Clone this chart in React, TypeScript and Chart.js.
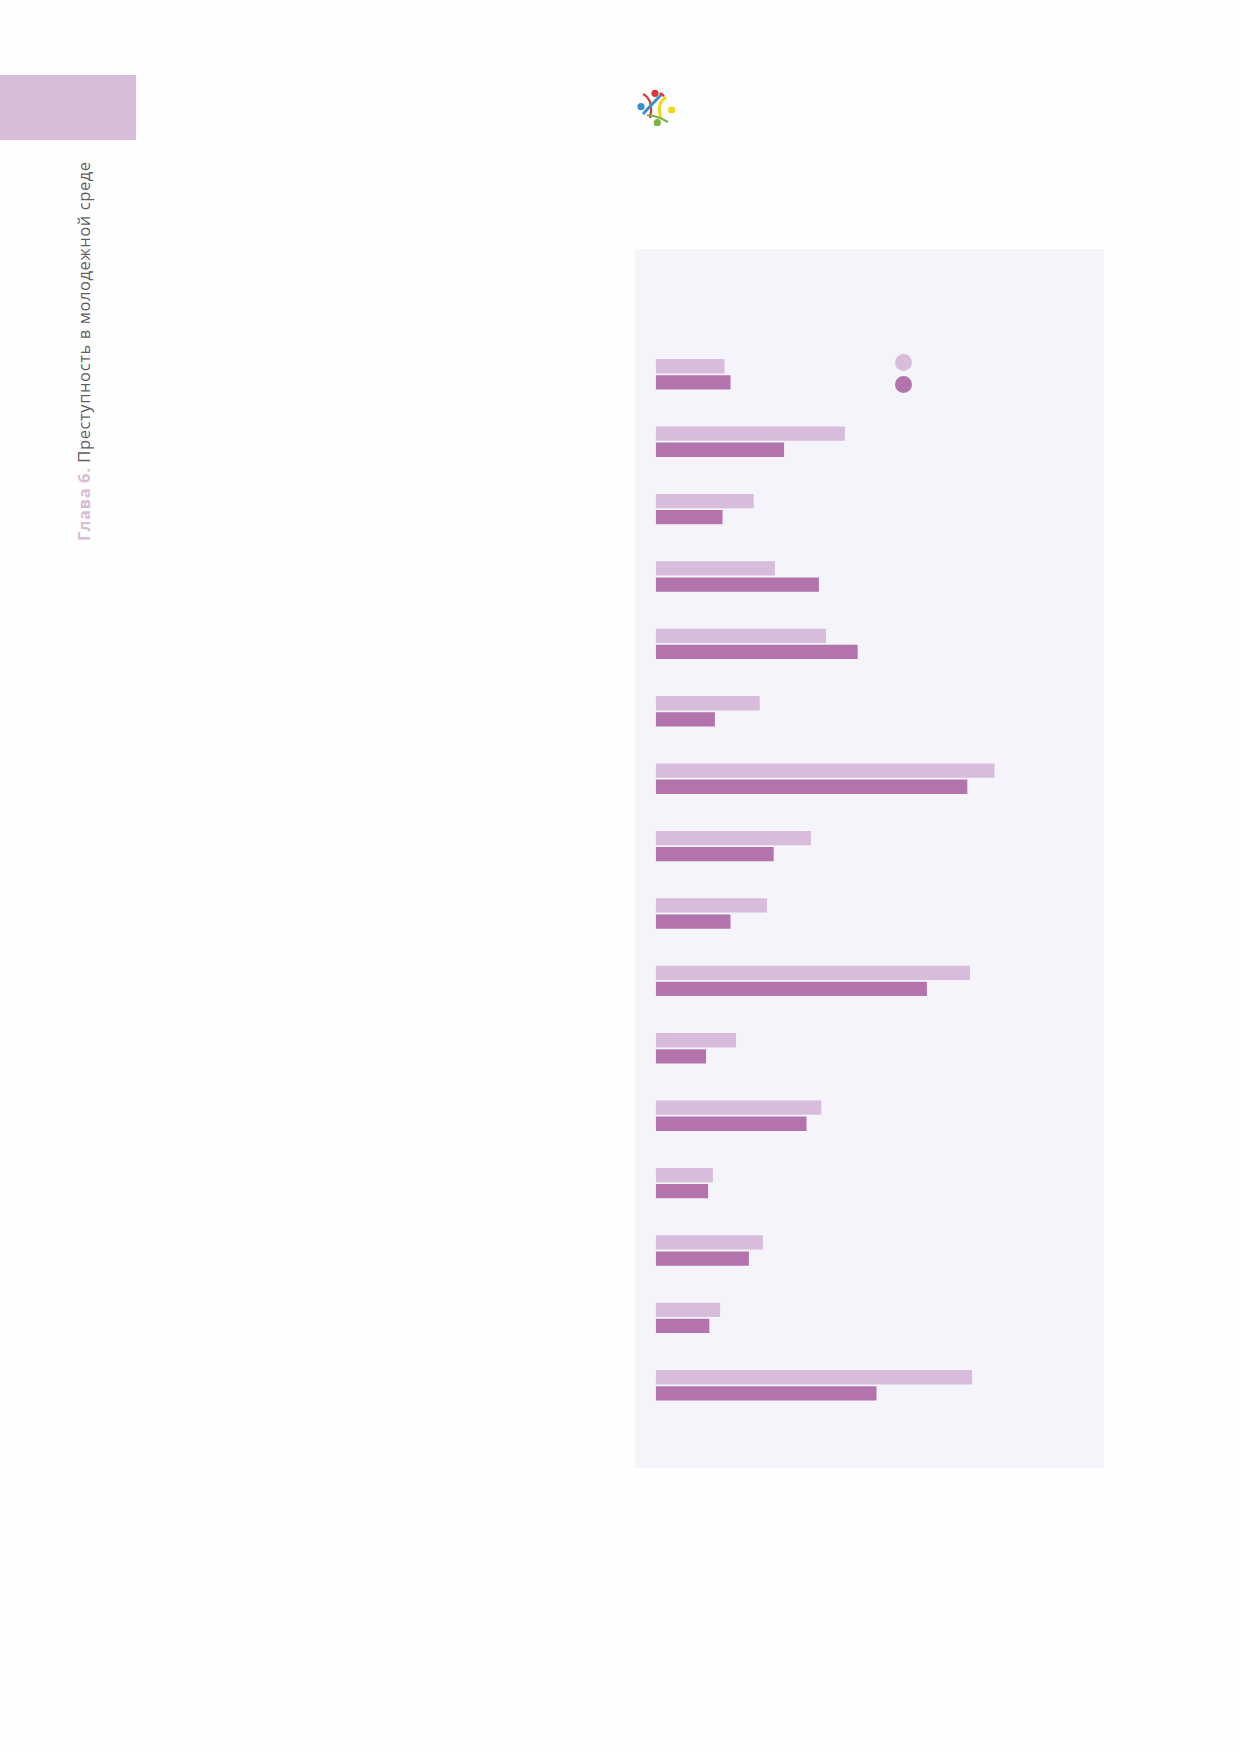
import React, { useEffect, useRef } from "react";
import { Chart, registerables } from "chart.js";

Chart.register(...registerables);

// 16 categories (labels not shown in the reference)
const categories: string[] = [
  "1", "2", "3", "4", "5", "6", "7", "8",
  "9", "10", "11", "12", "13", "14", "15", "16",
];

// Series values (relative scale 0–100)
const seriesLight: number[] = [
  17.2, 47.3, 24.5, 29.8, 42.6, 26.0, 84.7, 38.8,
  27.8, 78.6, 20.1, 41.4, 14.3, 26.8, 16.1, 79.1,
];
const seriesDark: number[] = [
  18.7, 32.1, 16.7, 40.8, 50.5, 14.8, 77.9, 29.5,
  18.7, 67.8, 12.6, 37.7, 13.1, 23.3, 13.4, 55.2,
];

const seriesNames: string[] = ["", ""];
const xMax = 100;

const LIGHT = "#d7bcdb";
const DARK = "#b374ae";
const PANEL = "#f5f4fa";

function BarChart() {
  const ref = useRef<HTMLCanvasElement | null>(null);
  useEffect(() => {
    if (!ref.current) return;
    const chart = new Chart(ref.current, {
      type: "bar",
      data: {
        labels: categories,
        datasets: [
          {
            label: seriesNames[0],
            data: seriesLight,
            backgroundColor: LIGHT,
            borderWidth: 0,
            categoryPercentage: 0.478,
            barPercentage: 0.89,
          },
          {
            label: seriesNames[1],
            data: seriesDark,
            backgroundColor: DARK,
            borderWidth: 0,
            categoryPercentage: 0.478,
            barPercentage: 0.89,
          },
        ],
      },
      options: {
        indexAxis: "y",
        animation: false,
        responsive: false,
        maintainAspectRatio: false,
        devicePixelRatio: 1,
        layout: { padding: { left: 20.7, right: 48.3, top: 91.6, bottom: 49.0 } },
        plugins: {
          legend: { display: false },
          tooltip: { enabled: false },
          title: { display: false },
        },
        scales: {
          x: {
            display: false,
            min: 0,
            max: xMax,
            grid: { display: false },
          },
          y: {
            display: false,
            grid: { display: false },
          },
        },
      },
    });
    return () => chart.destroy();
  }, []);
  return (
    <canvas
      ref={ref}
      width={469}
      height={1219}
      style={{ position: "absolute", left: 635, top: 249, width: 469, height: 1219 }}
    />
  );
}

function Logo() {
  return (
    <svg
      width={50}
      height={50}
      viewBox="0 0 50 50"
      style={{ position: "absolute", left: 630, top: 80 }}
    >
      <circle cx={25} cy={13.3} r={3.6} fill="#d83a35" />
      <circle cx={11} cy={26.7} r={3.6} fill="#3b8ed0" />
      <circle cx={41.7} cy={30} r={3.6} fill="#f3d51b" />
      <circle cx={27.3} cy={42.7} r={3.6} fill="#7bb342" />
      <path d="M13 14 Q24 20 20 38" stroke="#d83a35" strokeWidth={2.2} fill="none" />
      <path d="M32 14 Q24 22 13 34" stroke="#3b8ed0" strokeWidth={3} fill="none" />
      <path d="M36 17 Q26 24 31 38" stroke="#f3d51b" strokeWidth={3} fill="none" />
      <path d="M17 35 Q28 36 38 42" stroke="#7bb342" strokeWidth={2.2} fill="none" />
      <path d="M30 13 L34 16" stroke="#d83a35" strokeWidth={2.5} />
    </svg>
  );
}

export default function App() {
  return (
    <div
      style={{
        position: "absolute",
        left: 0,
        top: 0,
        width: 1239,
        height: 1752,
        background: "#fefefe",
        overflow: "hidden",
        fontFamily: "'Open Sans', sans-serif",
      }}
    >
      <div
        style={{
          position: "absolute",
          left: 0,
          top: 75,
          width: 136,
          height: 65,
          background: "#d8bdd8",
        }}
      />
      <div
        style={{
          position: "absolute",
          left: 84,
          top: 541,
          transform: "rotate(-90deg)",
          transformOrigin: "0 0",
          whiteSpace: "nowrap",
          fontSize: 16.5,
          letterSpacing: "0.6px",
          lineHeight: "20px",
          color: "#5f5f5f",
        }}
      >
        <div style={{ transform: "translateY(-10px)" }}>
          <span style={{ color: "#d8bdd8", fontWeight: 700 }}>Глава 6.</span>{" "}
          Преступность в молодежной среде
        </div>
      </div>
      <Logo />
      <div
        style={{
          position: "absolute",
          left: 635,
          top: 249,
          width: 469,
          height: 1219,
          background: PANEL,
        }}
      />
      <BarChart />
      <div
        style={{
          position: "absolute",
          left: 895,
          top: 353.6,
          width: 17.4,
          height: 17.4,
          borderRadius: "50%",
          background: LIGHT,
        }}
      />
      <div
        style={{
          position: "absolute",
          left: 895,
          top: 375.6,
          width: 17.4,
          height: 17.4,
          borderRadius: "50%",
          background: DARK,
        }}
      />
    </div>
  );
}
